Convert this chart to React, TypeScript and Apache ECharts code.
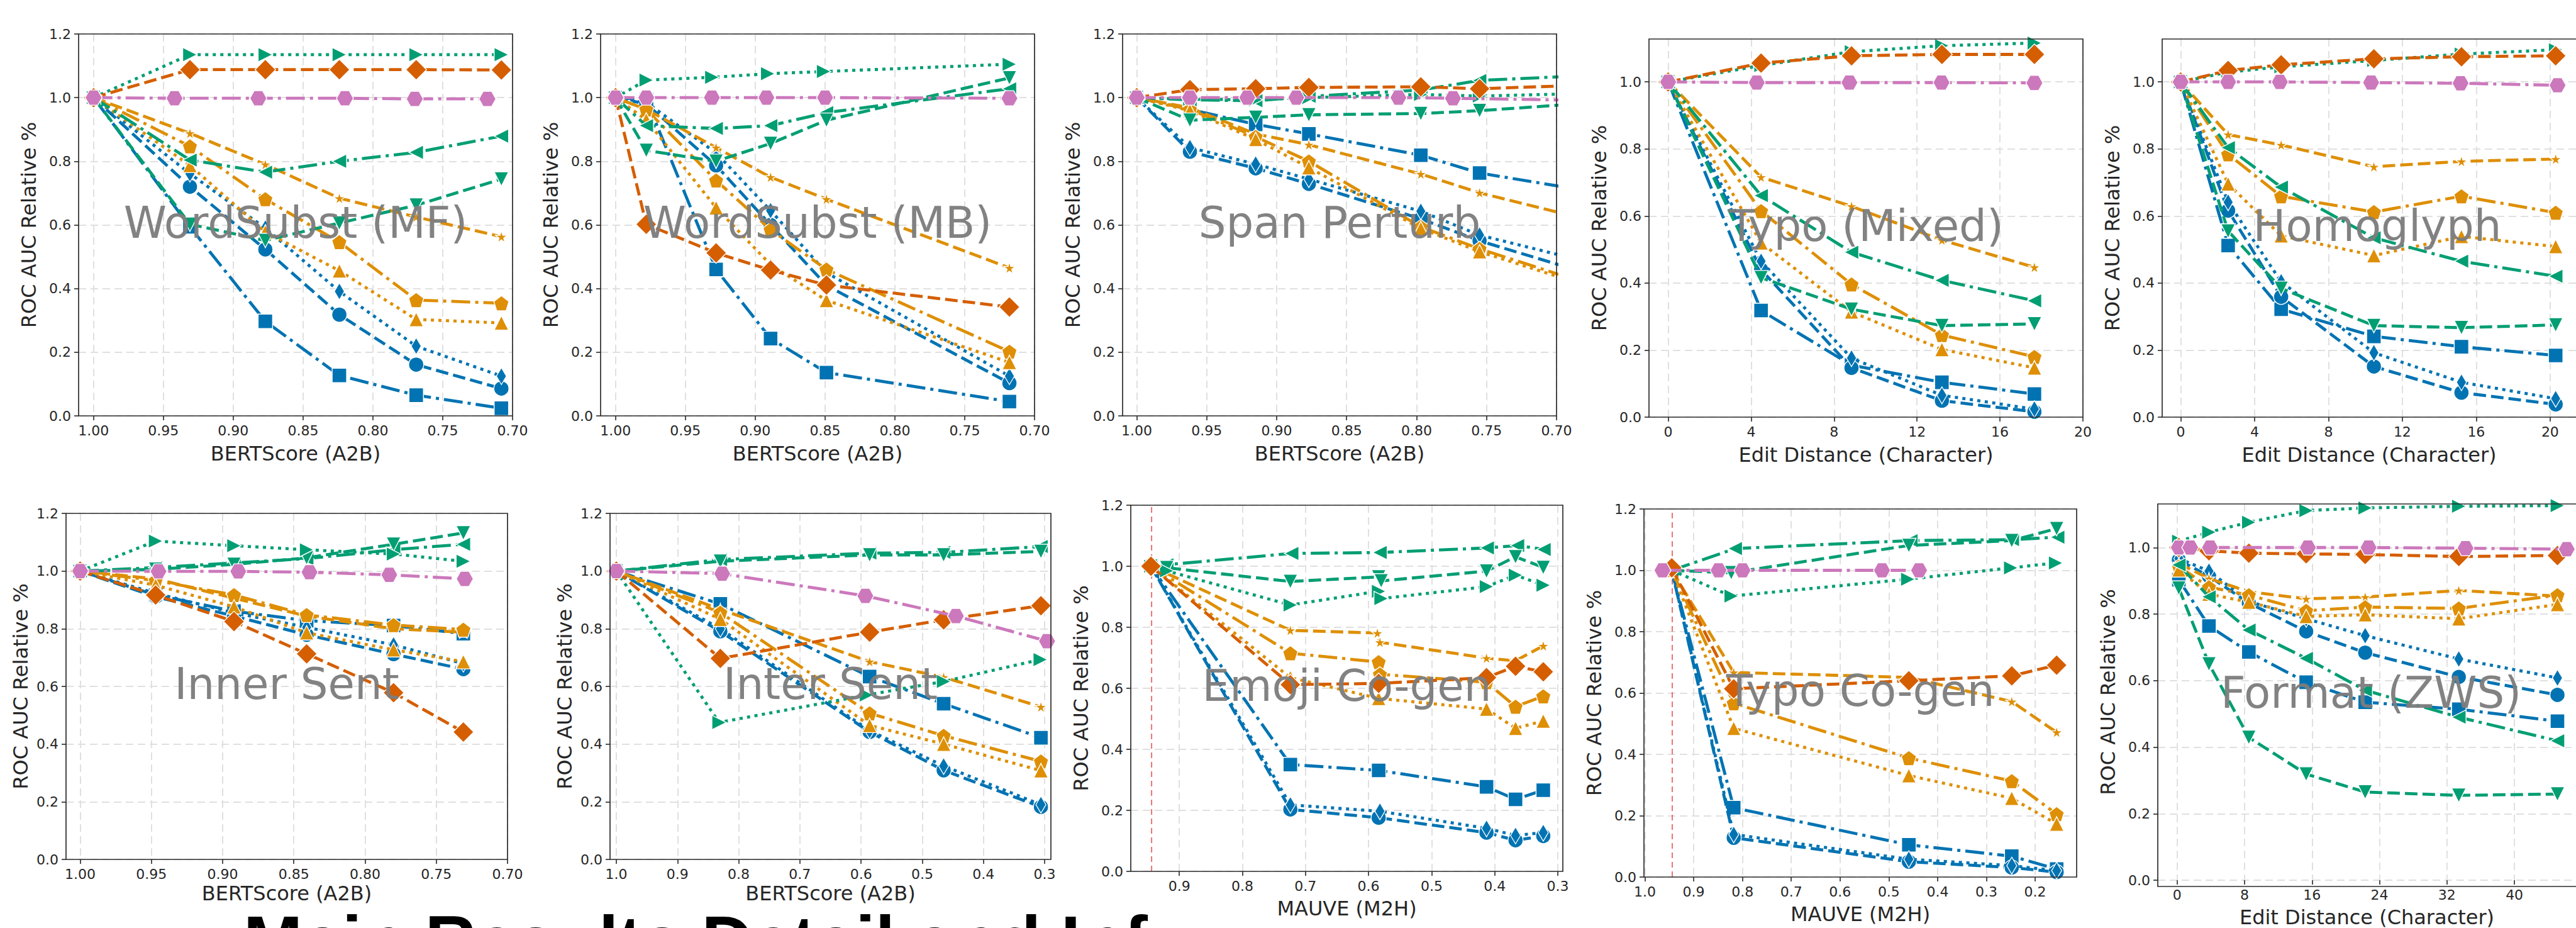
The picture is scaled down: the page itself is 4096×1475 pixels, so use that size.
import React, { useEffect, useRef } from 'react';
import * as echarts from 'echarts';

type Pt = [number, number];

// ---------- series order: 0 blue-square, 1 blue-circle, 2 blue-thin-diamond, 3 orange-star,
// 4 orange-pentagon, 5 orange-triangle, 6 green-left, 7 green-down, 8 green-right, 9 vermilion-diamond, 10 pink-hexagon

const wordSubstMF: Pt[][] = [
  [[1, 1], [0.931, 0.594], [0.877, 0.297], [0.824, 0.127], [0.769, 0.065], [0.708, 0.024]],
  [[1, 1], [0.931, 0.72], [0.877, 0.523], [0.824, 0.318], [0.769, 0.161], [0.708, 0.086]],
  [[1, 1], [0.931, 0.761], [0.877, 0.59], [0.824, 0.391], [0.769, 0.219], [0.708, 0.125]],
  [[1, 1], [0.931, 0.888], [0.877, 0.79], [0.824, 0.684], [0.769, 0.625], [0.708, 0.563]],
  [[1, 1], [0.931, 0.847], [0.877, 0.681], [0.824, 0.546], [0.769, 0.364], [0.708, 0.354]],
  [[1, 1], [0.931, 0.787], [0.877, 0.578], [0.824, 0.456], [0.769, 0.303], [0.708, 0.292]],
  [[1, 1], [0.931, 0.804], [0.877, 0.766], [0.824, 0.8], [0.769, 0.828], [0.708, 0.879]],
  [[1, 1], [0.931, 0.602], [0.877, 0.551], [0.824, 0.606], [0.769, 0.662], [0.708, 0.744]],
  [[1, 1], [0.931, 1.135], [0.877, 1.135], [0.824, 1.135], [0.769, 1.135], [0.708, 1.135]],
  [[1, 1], [0.931, 1.088], [0.877, 1.088], [0.824, 1.088], [0.769, 1.088], [0.708, 1.087]],
  [[1, 1], [0.942, 0.998], [0.882, 0.998], [0.82, 0.998], [0.77, 0.996], [0.718, 0.996]],
];

const wordSubstMB: Pt[][] = [
  [[1, 1], [0.978, 0.994], [0.928, 0.46], [0.889, 0.243], [0.849, 0.136], [0.718, 0.045]],
  [[1, 1], [0.978, 0.98], [0.928, 0.787], [0.889, 0.6], [0.849, 0.41], [0.718, 0.103]],
  [[1, 1], [0.978, 0.985], [0.928, 0.826], [0.889, 0.645], [0.849, 0.45], [0.718, 0.125]],
  [[1, 1], [0.978, 0.963], [0.928, 0.843], [0.889, 0.75], [0.849, 0.681], [0.718, 0.465]],
  [[1, 1], [0.978, 0.963], [0.928, 0.74], [0.889, 0.585], [0.849, 0.46], [0.718, 0.202]],
  [[1, 1], [0.978, 0.93], [0.928, 0.654], [0.889, 0.475], [0.849, 0.363], [0.718, 0.168]],
  [[1, 1], [0.978, 0.912], [0.928, 0.903], [0.889, 0.912], [0.849, 0.953], [0.718, 1.028]],
  [[1, 1], [0.978, 0.834], [0.928, 0.8], [0.889, 0.856], [0.849, 0.929], [0.718, 1.062]],
  [[1, 1], [0.978, 1.055], [0.931, 1.064], [0.891, 1.075], [0.851, 1.082], [0.718, 1.105]],
  [[1, 1], [0.978, 0.602], [0.928, 0.512], [0.889, 0.458], [0.849, 0.411], [0.718, 0.342]],
  [[1, 1], [0.978, 1.0], [0.931, 1.0], [0.892, 1.0], [0.85, 1.0], [0.718, 0.998]],
];

const spanPerturb: Pt[][] = [
  [[1, 1], [0.962, 0.963], [0.915, 0.916], [0.877, 0.886], [0.797, 0.819], [0.755, 0.763], [0.66, 0.694]],
  [[1, 1], [0.962, 0.83], [0.915, 0.778], [0.877, 0.729], [0.797, 0.619], [0.755, 0.55], [0.66, 0.424]],
  [[1, 1], [0.962, 0.843], [0.915, 0.791], [0.877, 0.744], [0.797, 0.643], [0.755, 0.568], [0.66, 0.464]],
  [[1, 1], [0.962, 0.968], [0.915, 0.886], [0.877, 0.852], [0.797, 0.76], [0.755, 0.701], [0.66, 0.597]],
  [[1, 1], [0.962, 0.963], [0.915, 0.877], [0.877, 0.8], [0.797, 0.594], [0.755, 0.525], [0.66, 0.39]],
  [[1, 1], [0.962, 0.959], [0.915, 0.869], [0.877, 0.78], [0.797, 0.589], [0.755, 0.516], [0.66, 0.383]],
  [[1, 1], [0.962, 0.993], [0.915, 0.99], [0.877, 1.004], [0.797, 1.024], [0.755, 1.054], [0.66, 1.073]],
  [[1, 1], [0.962, 0.929], [0.915, 0.938], [0.877, 0.946], [0.797, 0.95], [0.755, 0.959], [0.66, 0.988]],
  [[1, 1], [0.962, 0.995], [0.915, 0.993], [0.877, 1.0], [0.797, 1.01], [0.755, 1.005], [0.66, 1.015]],
  [[1, 1], [0.962, 1.025], [0.915, 1.028], [0.877, 1.032], [0.797, 1.034], [0.755, 1.028], [0.66, 1.042]],
  [[1, 1], [0.962, 1.0], [0.921, 1.0], [0.886, 1.0], [0.813, 1.0], [0.774, 0.998], [0.66, 0.99]],
];

const typoMixed: Pt[][] = [
  [[0, 1], [4.48, 0.318], [8.84, 0.155], [13.2, 0.104], [17.66, 0.069]],
  [[0, 1], [4.48, 0.44], [8.84, 0.147], [13.2, 0.049], [17.66, 0.016]],
  [[0, 1], [4.48, 0.465], [8.84, 0.176], [13.2, 0.065], [17.66, 0.024]],
  [[0, 1], [4.48, 0.716], [8.84, 0.629], [13.2, 0.528], [17.66, 0.447]],
  [[0, 1], [4.48, 0.615], [8.84, 0.396], [13.2, 0.245], [17.66, 0.18]],
  [[0, 1], [4.48, 0.52], [8.84, 0.314], [13.2, 0.202], [17.66, 0.147]],
  [[0, 1], [4.48, 0.661], [8.84, 0.492], [13.2, 0.408], [17.66, 0.347]],
  [[0, 1], [4.48, 0.416], [8.84, 0.322], [13.2, 0.273], [17.66, 0.278]],
  [[0, 1], [4.48, 1.049], [8.84, 1.09], [13.2, 1.108], [17.66, 1.116]],
  [[0, 1], [4.48, 1.056], [8.84, 1.078], [13.2, 1.082], [17.66, 1.082]],
  [[0, 1], [4.27, 0.998], [8.74, 0.998], [13.18, 0.998], [17.66, 0.997]],
];

const homoglyph: Pt[][] = [
  [[0, 1], [2.57, 0.512], [5.44, 0.322], [10.46, 0.241], [15.2, 0.21], [20.3, 0.184]],
  [[0, 1], [2.57, 0.616], [5.44, 0.359], [10.46, 0.151], [15.2, 0.073], [20.3, 0.038]],
  [[0, 1], [2.57, 0.641], [5.44, 0.404], [10.46, 0.192], [15.2, 0.104], [20.3, 0.055]],
  [[0, 1], [2.57, 0.843], [5.44, 0.812], [10.46, 0.747], [15.2, 0.763], [20.3, 0.77]],
  [[0, 1], [2.57, 0.784], [5.44, 0.659], [10.46, 0.612], [15.2, 0.659], [20.3, 0.61]],
  [[0, 1], [2.57, 0.696], [5.44, 0.541], [10.46, 0.482], [15.2, 0.539], [20.3, 0.509]],
  [[0, 1], [2.57, 0.804], [5.44, 0.686], [10.46, 0.535], [15.2, 0.465], [20.3, 0.42]],
  [[0, 1], [2.57, 0.555], [5.44, 0.384], [10.46, 0.273], [15.2, 0.267], [20.3, 0.275]],
  [[0, 1], [2.57, 1.029], [5.44, 1.045], [10.46, 1.064], [15.2, 1.083], [20.3, 1.096]],
  [[0, 1], [2.57, 1.034], [5.44, 1.051], [10.46, 1.069], [15.2, 1.075], [20.3, 1.078]],
  [[0, 1], [2.57, 1.0], [5.37, 1.0], [10.31, 0.998], [15.15, 0.996], [20.4, 0.99]],
];

const innerSent: Pt[][] = [
  [[1, 1], [0.947, 0.917], [0.892, 0.861], [0.841, 0.828], [0.78, 0.811], [0.731, 0.783]],
  [[1, 1], [0.947, 0.911], [0.892, 0.844], [0.841, 0.779], [0.78, 0.712], [0.731, 0.66]],
  [[1, 1], [0.947, 0.923], [0.892, 0.855], [0.841, 0.805], [0.78, 0.744], [0.731, 0.679]],
  [[1, 1], [0.947, 0.973], [0.892, 0.906], [0.841, 0.844], [0.78, 0.8], [0.731, 0.788]],
  [[1, 1], [0.947, 0.967], [0.892, 0.917], [0.841, 0.848], [0.78, 0.813], [0.731, 0.797]],
  [[1, 1], [0.947, 0.951], [0.892, 0.876], [0.841, 0.786], [0.78, 0.727], [0.731, 0.686]],
  [[1, 1], [0.947, 1.012], [0.892, 1.028], [0.841, 1.043], [0.78, 1.074], [0.731, 1.093]],
  [[1, 1], [0.947, 1.006], [0.892, 1.023], [0.841, 1.046], [0.78, 1.093], [0.731, 1.132]],
  [[1, 1], [0.947, 1.104], [0.892, 1.088], [0.841, 1.074], [0.78, 1.059], [0.731, 1.034]],
  [[1, 1], [0.947, 0.917], [0.892, 0.825], [0.841, 0.713], [0.78, 0.578], [0.731, 0.442]],
  [[1, 1], [0.945, 0.999], [0.889, 0.999], [0.839, 0.996], [0.783, 0.987], [0.73, 0.973]],
];

const interSent: Pt[][] = [
  [[1, 1], [0.83, 0.886], [0.586, 0.634], [0.465, 0.54], [0.306, 0.422]],
  [[1, 1], [0.83, 0.791], [0.586, 0.442], [0.465, 0.309], [0.306, 0.182]],
  [[1, 1], [0.83, 0.8], [0.586, 0.447], [0.465, 0.324], [0.306, 0.19]],
  [[1, 1], [0.83, 0.867], [0.586, 0.686], [0.465, 0.632], [0.306, 0.529]],
  [[1, 1], [0.83, 0.856], [0.586, 0.507], [0.465, 0.429], [0.306, 0.34]],
  [[1, 1], [0.83, 0.833], [0.586, 0.465], [0.465, 0.4], [0.306, 0.308]],
  [[1, 1], [0.83, 1.04], [0.586, 1.062], [0.465, 1.065], [0.306, 1.085]],
  [[1, 1], [0.83, 1.034], [0.586, 1.056], [0.465, 1.056], [0.306, 1.068]],
  [[1, 1], [0.832, 0.475], [0.591, 0.57], [0.465, 0.617], [0.307, 0.693]],
  [[1, 1], [0.83, 0.697], [0.586, 0.788], [0.465, 0.831], [0.306, 0.88]],
  [[1, 1], [0.827, 0.991], [0.593, 0.914], [0.445, 0.844], [0.296, 0.757]],
];

const emojiCogen: Pt[][] = [
  [[0.945, 1], [0.724, 0.35], [0.584, 0.331], [0.413, 0.277], [0.367, 0.236], [0.323, 0.266]],
  [[0.945, 1], [0.724, 0.203], [0.584, 0.176], [0.413, 0.127], [0.367, 0.102], [0.323, 0.116]],
  [[0.945, 1], [0.724, 0.218], [0.582, 0.197], [0.413, 0.141], [0.367, 0.118], [0.323, 0.127]],
  [[0.945, 1], [0.724, 0.79], [0.586, 0.781], [0.582, 0.751], [0.413, 0.699], [0.367, 0.69], [0.323, 0.739]],
  [[0.945, 1], [0.724, 0.715], [0.584, 0.686], [0.582, 0.646], [0.413, 0.62], [0.367, 0.54], [0.323, 0.574]],
  [[0.945, 1], [0.724, 0.635], [0.584, 0.567], [0.413, 0.532], [0.367, 0.469], [0.323, 0.493]],
  [[0.945, 1], [0.92, 1.005], [0.722, 1.042], [0.582, 1.045], [0.412, 1.06], [0.364, 1.068], [0.322, 1.055]],
  [[0.945, 1], [0.92, 0.995], [0.724, 0.95], [0.584, 0.965], [0.58, 0.952], [0.413, 0.984], [0.367, 1.031], [0.323, 0.996]],
  [[0.945, 1], [0.92, 0.985], [0.724, 0.873], [0.584, 0.918], [0.58, 0.894], [0.413, 0.933], [0.367, 0.971], [0.323, 0.938]],
  [[0.945, 1], [0.724, 0.612], [0.584, 0.616], [0.413, 0.635], [0.367, 0.672], [0.323, 0.654]],
  [],
];

const typoCogen: Pt[][] = [
  [[0.945, 1], [0.818, 0.226], [0.459, 0.105], [0.248, 0.068], [0.156, 0.026]],
  [[0.945, 1], [0.818, 0.128], [0.459, 0.05], [0.248, 0.031], [0.156, 0.016]],
  [[0.945, 1], [0.818, 0.139], [0.459, 0.058], [0.248, 0.037], [0.156, 0.021]],
  [[0.945, 1], [0.818, 0.667], [0.459, 0.651], [0.248, 0.572], [0.156, 0.472]],
  [[0.945, 1], [0.818, 0.567], [0.459, 0.388], [0.248, 0.313], [0.156, 0.205]],
  [[0.945, 1], [0.818, 0.485], [0.459, 0.331], [0.248, 0.257], [0.156, 0.173]],
  [[0.945, 1], [0.815, 1.071], [0.455, 1.097], [0.247, 1.1], [0.154, 1.108]],
  [[0.945, 1], [0.823, 0.992], [0.459, 1.081], [0.248, 1.097], [0.156, 1.136]],
  [[0.945, 1], [0.823, 0.916], [0.461, 0.971], [0.25, 1.008], [0.158, 1.024]],
  [[0.945, 1.008], [0.818, 0.614], [0.459, 0.64], [0.248, 0.656], [0.156, 0.691]],
  [[0.964, 1], [0.849, 1], [0.8, 1], [0.514, 1], [0.438, 1]],
];

const formatZWS: Pt[][] = [
  [[0.2, 0.903], [3.77, 0.764], [8.5, 0.686], [15.3, 0.595], [22.3, 0.535], [33.4, 0.514], [45.1, 0.478]],
  [[0.2, 0.962], [3.77, 0.914], [8.5, 0.833], [15.3, 0.748], [22.3, 0.684], [33.4, 0.611], [45.1, 0.557]],
  [[0.2, 0.967], [3.77, 0.929], [8.5, 0.838], [15.3, 0.786], [22.3, 0.735], [33.4, 0.665], [45.1, 0.608]],
  [[0.2, 0.952], [3.77, 0.907], [8.5, 0.867], [15.3, 0.846], [22.3, 0.851], [33.4, 0.871], [45.1, 0.854]],
  [[0.2, 0.943], [3.77, 0.881], [8.5, 0.857], [15.3, 0.81], [22.3, 0.821], [33.4, 0.817], [45.1, 0.857]],
  [[0.2, 0.933], [3.77, 0.86], [8.5, 0.836], [15.3, 0.793], [22.3, 0.798], [33.4, 0.786], [45.1, 0.829]],
  [[0.2, 0.948], [3.77, 0.852], [8.5, 0.752], [15.3, 0.667], [22.3, 0.571], [33.4, 0.49], [45.1, 0.419]],
  [[0.2, 0.878], [3.77, 0.65], [8.5, 0.429], [15.3, 0.319], [22.3, 0.265], [33.4, 0.255], [45.1, 0.259]],
  [[0.2, 1.019], [3.77, 1.046], [8.5, 1.076], [15.3, 1.111], [22.3, 1.119], [33.4, 1.124], [45.1, 1.126]],
  [[0.2, 1.0], [3.77, 0.99], [8.5, 0.983], [15.3, 0.981], [22.3, 0.979], [33.4, 0.973], [45.1, 0.976]],
  [[0.2, 1.0], [1.55, 1.0], [3.9, 1.0], [15.5, 1.0], [22.7, 1.0], [34.2, 0.998], [46.2, 0.995]],
];

// reference lines (MAUVE of unperturbed text)
const emojiRefLine: Pt[] = [[0.944, 0], [0.944, 1.2]];
const typoRefLine: Pt[] = [[0.944, 0], [0.944, 1.2]];

// tick labels
const bertTicks = [1.0, 0.95, 0.9, 0.85, 0.8, 0.75, 0.7];
const interTicks = [1.0, 0.9, 0.8, 0.7, 0.6, 0.5, 0.4, 0.3];
const mauveTicksA = [0.9, 0.8, 0.7, 0.6, 0.5, 0.4, 0.3];
const mauveTicksB = [1.0, 0.9, 0.8, 0.7, 0.6, 0.5, 0.4, 0.3, 0.2];
const editTicks20 = [0, 4, 8, 12, 16, 20];
const editTicks40 = [0, 8, 16, 24, 32, 40];
const yTicks12 = [0, 0.2, 0.4, 0.6, 0.8, 1.0, 1.2];
const yTicks10 = [0, 0.2, 0.4, 0.6, 0.8, 1.0];

const titles = ['WordSubst (MF)', 'WordSubst (MB)', 'Span Perturb', 'Typo (Mixed)', 'Homoglyph',
  'Inner Sent', 'Inter Sent', 'Emoji Co-gen', 'Typo Co-gen', 'Format (ZWS)'];
const heading = 'Main Results Detail and Inf';

const BLUE = '#0173B2';
const ORANGE = '#DE8F05';
const GREEN = '#029E73';
const VERM = '#D55E00';
const PINK = '#CC78BC';

const DASH = [20, 8];
const DASHDOT = [30, 8, 5, 8];
const DOT = [5, 7];

const STAR = 'path://M0,-1L0.2245,-0.309L0.951,-0.309L0.363,0.118L0.588,0.809L0,0.382L-0.588,0.809L-0.363,0.118L-0.951,-0.309L-0.2245,-0.309Z';
const PENT = 'path://M0,-1L0.951,-0.309L0.588,0.809L-0.588,0.809L-0.951,-0.309Z';
const HEX = 'path://M-1,0L-0.5,-0.866L0.5,-0.866L1,0L0.5,0.866L-0.5,0.866Z';
const TUP = 'path://M0,-1L1,0.8L-1,0.8Z';
const TDOWN = 'path://M0,1L1,-0.8L-1,-0.8Z';
const TLEFT = 'path://M-1,0L0.8,-1L0.8,1Z';
const TRIGHT = 'path://M1,0L-0.8,-1L-0.8,1Z';

const styles: any[] = [
  { color: BLUE, dash: DASHDOT, symbol: 'rect', size: 23 },
  { color: BLUE, dash: DASH, symbol: 'circle', size: 24 },
  { color: BLUE, dash: DOT, symbol: 'diamond', size: [16, 27] },
  { color: ORANGE, dash: DASH, symbol: STAR, size: 19 },
  { color: ORANGE, dash: DASHDOT, symbol: PENT, size: 24 },
  { color: ORANGE, dash: DOT, symbol: TUP, size: 23 },
  { color: GREEN, dash: DASHDOT, symbol: TLEFT, size: 23 },
  { color: GREEN, dash: DASH, symbol: TDOWN, size: 23 },
  { color: GREEN, dash: DOT, symbol: TRIGHT, size: 23 },
  { color: VERM, dash: DASH, symbol: 'diamond', size: 33 },
  { color: PINK, dash: DASHDOT, symbol: HEX, size: [27, 24] },
];

const BERT = 'BERTScore (A2B)';
const EDIT = 'Edit Distance (Character)';
const MAUVE = 'MAUVE (M2H)';

const panels: any[] = [
  { data: wordSubstMF, l: 125, t: 54, w: 690, h: 607, xmin: 0.7, xmax: 1.0107, inv: true, xt: bertTicks, dec: 2, xname: BERT, ymax: 1.2, yt: yTicks12, yGap: 63, xGap: 44 },
  { data: wordSubstMB, l: 955, t: 54, w: 690, h: 607, xmin: 0.7, xmax: 1.0107, inv: true, xt: bertTicks, dec: 2, xname: BERT, ymax: 1.2, yt: yTicks12, yGap: 63, xGap: 44 },
  { data: spanPerturb, l: 1785, t: 54, w: 690, h: 607, xmin: 0.7, xmax: 1.0101, inv: true, xt: bertTicks, dec: 2, xname: BERT, ymax: 1.2, yt: yTicks12, yGap: 63, xGap: 44 },
  { data: typoMixed, l: 2622, t: 62, w: 690, h: 601, xmin: -0.925, xmax: 20, inv: false, xt: editTicks20, dec: 0, xname: EDIT, ymax: 1.128, yt: yTicks10, yGap: 63, xGap: 44 },
  { data: homoglyph, l: 3438, t: 62, w: 684, h: 601, xmin: -1.0, xmax: 21.4, inv: false, xt: editTicks20, dec: 0, xname: EDIT, ymax: 1.128, yt: yTicks10, yGap: 63, xGap: 44 },
  { data: innerSent, l: 105, t: 816, w: 702, h: 550, xmin: 0.7, xmax: 1.0099, inv: true, xt: bertTicks, dec: 2, xname: BERT, ymax: 1.2, yt: yTicks12, yGap: 56, xGap: 38 },
  { data: interSent, l: 970, t: 816, w: 701, h: 550, xmin: 0.2897, xmax: 1.0103, inv: true, xt: interTicks, dec: 1, xname: BERT, ymax: 1.2, yt: yTicks12, yGap: 56, xGap: 38 },
  { data: emojiCogen, l: 1798, t: 803, w: 687, h: 582, xmin: 0.292, xmax: 0.977, inv: true, xt: mauveTicksA, dec: 1, xname: MAUVE, ymax: 1.2, yt: yTicks12, yGap: 63, xGap: 43, ref: emojiRefLine },
  { data: typoCogen, l: 2614, t: 809, w: 688, h: 585, xmin: 0.115, xmax: 1.002, inv: true, xt: mauveTicksB, dec: 1, xname: MAUVE, ymax: 1.2, yt: yTicks12, yGap: 63, xGap: 43, ref: typoRefLine },
  { data: formatZWS, l: 3431, t: 801, w: 678, h: 608, xmin: -2.3, xmax: 47.3, inv: false, xt: editTicks40, dec: 0, xname: EDIT, ymax: 1.131, yt: yTicks10, yGap: 63, xGap: 43 },
];

const TXT = '#262626';
const FONT = 'DejaVu Sans';

function buildOption() {
  const grid: any[] = [];
  const xAxis: any[] = [];
  const yAxis: any[] = [];
  const series: any[] = [];
  const graphic: any[] = [];

  panels.forEach((p, i) => {
    grid.push({ left: p.l, top: p.t, width: p.w, height: p.h, show: false, containLabel: false });
    const split = { show: true, lineStyle: { color: '#e0e0e0', width: 2, type: [12, 7] } };
    xAxis.push({
      gridIndex: i, type: 'value', min: p.xmin, max: p.xmax, inverse: p.inv,
      axisLine: { show: false, onZero: false },
      axisTick: { show: true, length: 7, inside: false, lineStyle: { color: TXT, width: 1.6 }, customValues: p.xt },
      axisLabel: { show: true, customValues: p.xt, margin: 12, fontSize: 22, color: TXT, fontFamily: FONT, formatter: (v: number) => Number(v).toFixed(p.dec) },
      splitLine: split,
      name: p.xname, nameLocation: 'middle', nameGap: p.xGap,
      nameTextStyle: { fontSize: 32, color: TXT, fontFamily: FONT },
    });
    yAxis.push({
      gridIndex: i, type: 'value', min: 0, max: p.ymax,
      axisLine: { show: false, onZero: false },
      axisTick: { show: true, length: 7, inside: false, lineStyle: { color: TXT, width: 1.6 }, customValues: p.yt },
      axisLabel: { show: true, customValues: p.yt, margin: 12, fontSize: 22, color: TXT, fontFamily: FONT, formatter: (v: number) => Number(v).toFixed(1) },
      splitLine: split,
      name: 'ROC AUC Relative %', nameLocation: 'middle', nameGap: p.yGap, nameRotate: 90,
      nameTextStyle: { fontSize: 32, color: TXT, fontFamily: FONT },
    });
    if (p.ref) {
      series.push({
        type: 'line', xAxisIndex: i, yAxisIndex: i, data: p.ref, symbol: 'none', silent: true,
        lineStyle: { color: 'rgba(232,90,90,0.85)', width: 2, type: [9, 6] }, z: 1, animation: false,
      });
    }
    (p.data as Pt[][]).forEach((pts, k) => {
      if (!pts.length) return;
      const s = styles[k];
      series.push({
        type: 'line', xAxisIndex: i, yAxisIndex: i, data: pts,
        symbol: s.symbol, symbolSize: s.size, showSymbol: true, clip: true, silent: true,
        lineStyle: { color: s.color, width: 4.8, type: s.dash },
        itemStyle: { color: s.color, borderColor: '#ffffff', borderWidth: 1.4 },
        emphasis: { disabled: true }, z: 2 + k, animation: false,
      });
    });
    // axes frame (spines)
    graphic.push({
      type: 'rect', z: 60, silent: true,
      shape: { x: p.l, y: p.t, width: p.w, height: p.h },
      style: { fill: 'none', stroke: '#2b2b2b', lineWidth: 1.7 },
    });
    graphic.push({
      type: 'text', x: p.l + p.w / 2, y: p.t + p.h / 2 - 4, z: 100, silent: true,
      style: { text: titles[i], fontSize: 69, fontFamily: FONT, fill: 'rgba(125,125,125,0.96)', align: 'center', verticalAlign: 'middle' },
    });
  });

  graphic.push({
    type: 'text', x: 387, y: 1439, z: 100, silent: true,
    style: { text: heading, fontSize: 113, fontWeight: 'bold', fontFamily: 'Liberation Sans', fill: '#000000', align: 'left', verticalAlign: 'top' },
  });

  return { animation: false, backgroundColor: '#ffffff', grid, xAxis, yAxis, series, graphic };
}

export default function App() {
  const ref = useRef<HTMLDivElement>(null);
  useEffect(() => {
    document.body.style.margin = '0';
    const chart = echarts.init(ref.current!, null, { renderer: 'svg', width: 4096, height: 1475 });
    chart.setOption(buildOption());
    return () => chart.dispose();
  }, []);
  return <div ref={ref} style={{ position: 'fixed', left: 0, top: 0, width: 4096, height: 1475, overflow: 'hidden' }} />;
}
